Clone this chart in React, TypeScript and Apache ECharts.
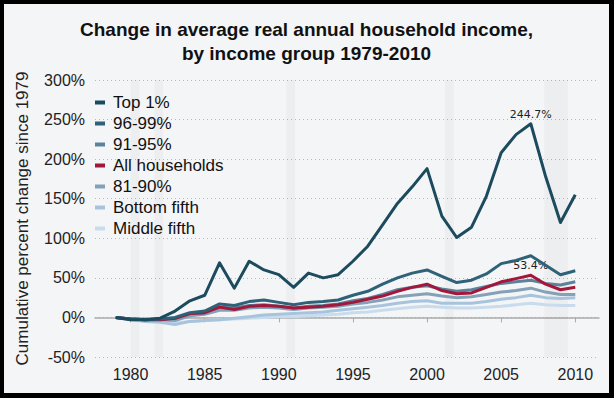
import React, { useEffect, useRef } from "react";
import * as echarts from "echarts";

const years = [1979,1980,1981,1982,1983,1984,1985,1986,1987,1988,1989,1990,1991,1992,1993,1994,1995,1996,1997,1998,1999,2000,2001,2002,2003,2004,2005,2006,2007,2008,2009,2010];

const top1 = [0,-3,-3,-1,8,21,28,69,37,71,60,54,38,56,50,54,71,90,117,144,165,188,128,101,114,153,208,231,244.7,178,120,155];
const p96_99 = [0,-2,-3,-2,0,6,8,17,15,20,22,19,16,19,20,22,28,33,42,50,56,60,52,44,47,55,68,72,78,66,54,59];
const p91_95 = [0,-2,-3,-2,-1,5,6,13,12,15,16,14,12,14,15,17,21,24,29,35,38,40,36,33,35,39,43,45,47,43,41,45];
const allHouseholds = [0,-2,-3,-3,-1,5,6,13,10,14,15,14,12,13,14,16,19,23,27,33,38,42,34,30,31,38,45,49,53.4,42,35,38];
const p81_90 = [0,-2,-3,-3,-4,2,4,9,9,12,13,12,10,12,13,14,17,19,22,26,28,30,27,25,26,29,32,34,37,32,29,29];
const bottomFifth = [0,-3,-5,-6,-9,-5,-4,-3,-1,1,3,4,5,6,7,9,11,13,15,18,20,21,18,18,18,20,23,25,28,25,24,25];
const middleFifth = [0,-2,-4,-5,-7,-5,-4,-3,-2,-1,0,1,1,2,3,4,6,7,9,11,13,14,13,12,12,13,14,16,18,16,15,15];

const seriesNames = ["Top 1%","96-99%","91-95%","All households","81-90%","Bottom fifth","Middle fifth"];
const seriesValues = [top1, p96_99, p91_95, allHouseholds, p81_90, bottomFifth, middleFifth];
const seriesColors = ["#1d4b5e","#2f6279","#5e829b","#a3173a","#84a1b8","#a8c4dc","#c9dcee"];
const drawOrder = [6,5,4,2,3,1,0];

const xTicks = [1980,1985,1990,1995,2000,2005,2010];
const recessions = [[1980,1980.6],[1981.6,1982.2],[1990.5,1991.1],[2001.2,2001.8],[2007.9,2009.5]];
const peakYear = 2007;

export default function App() {
  const ref = useRef<HTMLDivElement>(null);
  useEffect(() => {
    if (!ref.current) return;
    const chart = echarts.init(ref.current, null, { renderer: "svg" });
    const font = "Liberation Sans, Arial, sans-serif";
    const series: any[] = drawOrder.map((i, idx) => ({
      name: seriesNames[i],
      type: "line",
      showSymbol: true,
      symbol: "circle",
      symbolSize: 0.01,
      z: 3 + idx,
      lineStyle: { width: 3, color: seriesColors[i], join: "round" },
      itemStyle: { color: seriesColors[i] },
      labelLayout: { hideOverlap: false },
      data: years.map((y, k) => {
        const v = seriesValues[i][k];
        if (y === peakYear && (i === 0 || i === 3)) {
          return {
            value: [y, v],
            label: {
              show: true,
              position: "top",
              distance: 4,
              formatter: v.toFixed(1) + "%",
              fontFamily: "DejaVu Sans",
              fontSize: 11,
              color: "#222",
            },
          };
        }
        return [y, v];
      }),
    }));
    series.push({
      name: "rec",
      type: "line",
      data: [],
      silent: true,
      markArea: {
        silent: true,
        itemStyle: { color: "rgba(0,0,0,0.028)" },
        data: recessions.map((r) => [{ xAxis: r[0] }, { xAxis: r[1] }]),
      },
    });
    chart.setOption({
      animation: false,
      backgroundColor: "#f4f5f7",
      title: {
        text: "Change in average real annual household income,\nby income group 1979-2010",
        left: "center",
        top: 8,
        textStyle: {
          fontFamily: font,
          fontWeight: "bold",
          fontSize: 19,
          lineHeight: 24,
          color: "#111",
        },
      },
      legend: {
        data: seriesNames,
        orient: "vertical",
        left: 86,
        top: 85,
        icon: "rect",
        itemWidth: 10,
        itemHeight: 4,
        itemGap: 4,
        textStyle: {
          fontFamily: font,
          fontSize: 17,
          lineHeight: 17,
          color: "#111",
          padding: [0, 0, 0, 3],
        },
      },
      grid: { left: 91, right: 10, top: 76, bottom: 36, containLabel: false },
      xAxis: {
        type: "value",
        min: 1977.6,
        max: 2011.6,
        axisLine: { show: true, lineStyle: { color: "#aaaaaa", width: 1.5 } },
        axisTick: { show: true, customValues: xTicks, length: 5, lineStyle: { color: "#aaaaaa" } },
        axisLabel: {
          customValues: xTicks,
          formatter: (v: number) => String(Math.round(v)),
          fontFamily: font,
          fontSize: 16,
          color: "#222",
          margin: 9,
        },
        splitLine: { show: false },
      },
      yAxis: {
        type: "value",
        min: -50,
        max: 300,
        interval: 50,
        name: "Cumulative percent change since 1979",
        nameLocation: "middle",
        nameGap: 64,
        nameTextStyle: { fontFamily: font, fontSize: 17, color: "#222" },
        axisLine: { show: false },
        axisTick: { show: false },
        axisLabel: {
          formatter: "{value}%",
          fontFamily: font,
          fontSize: 16,
          color: "#222",
          margin: 10,
        },
        splitLine: { show: true, lineStyle: { color: "#b8b8b8", type: [1, 3], width: 1 } },
      },
      series,
    });
    return () => chart.dispose();
  }, []);
  return (
    <div
      style={{
        position: "fixed",
        left: 0,
        top: 0,
        width: 614,
        height: 398,
        boxSizing: "border-box",
        borderTop: "4px solid #000",
        borderLeft: "4px solid #000",
        borderRight: "5px solid #000",
        borderBottom: "5px solid #000",
        background: "#000",
      }}
    >
      <div ref={ref} style={{ width: 605, height: 389 }} />
    </div>
  );
}
